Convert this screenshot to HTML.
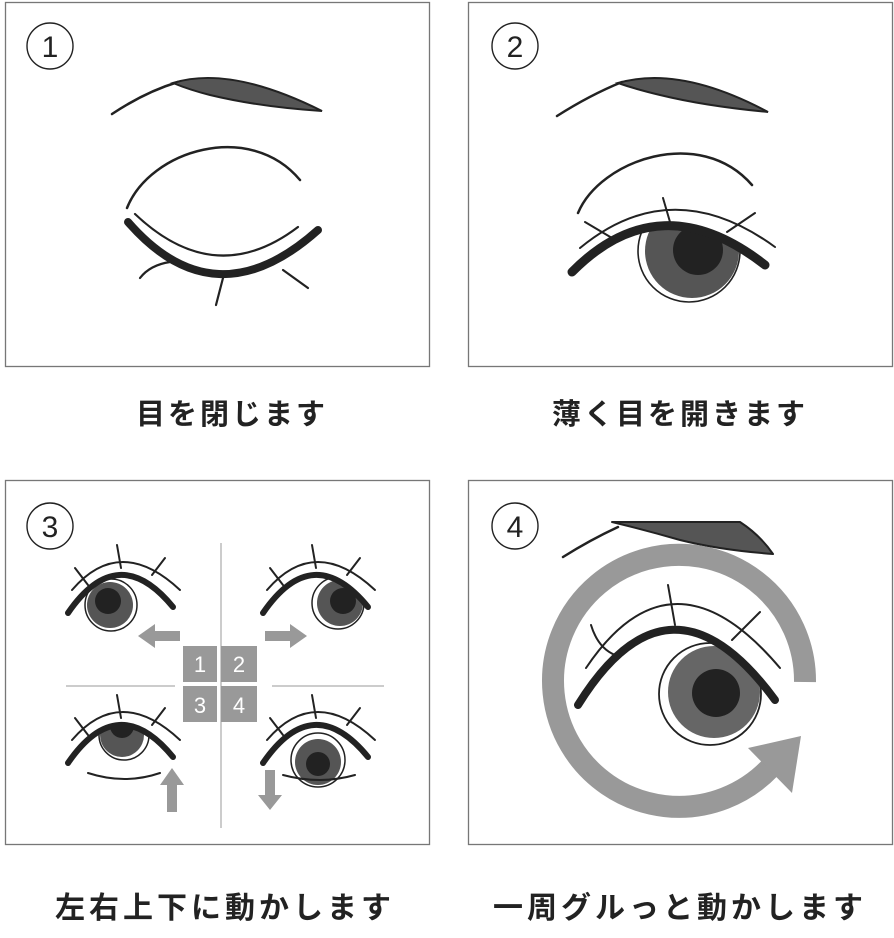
<!DOCTYPE html>
<html><head><meta charset="utf-8"><style>
html,body{margin:0;padding:0;background:#fff;}
svg{display:block}
text{font-family:"Liberation Sans","Noto Sans CJK JP",sans-serif;}
</style></head><body>
<svg width="894" height="938" viewBox="0 0 894 938" xmlns="http://www.w3.org/2000/svg">
<defs>
<clipPath id="c2"><path d="M572,272 Q660,183 765,265 L765,400 L572,400Z"/></clipPath>
<clipPath id="c4"><path d="M578,705 Q670,557 775,700 L775,800 L578,800Z"/></clipPath>
<clipPath id="cTL"><path d="M68,613 Q118,540 173,607 L173,700 L68,700Z"/></clipPath>
<clipPath id="cTR"><path d="M263,613 Q313,540 368,607 L368,700 L263,700Z"/></clipPath>
<clipPath id="cBL"><path d="M68,763 Q118,690 173,757 L173,850 L68,850Z"/></clipPath>
<clipPath id="cBR"><path d="M263,763 Q313,690 368,757 L368,850 L263,850Z"/></clipPath>
</defs>
<g fill="none" stroke="#777" stroke-width="1.3">
<rect x="5.5" y="2.5" width="424" height="364"/>
<rect x="468.5" y="2.5" width="424" height="364"/>
<rect x="5.5" y="480.5" width="424" height="364"/>
<rect x="468.5" y="480.5" width="424" height="364"/>
</g>
<g fill="none" stroke="#222" stroke-width="1.4">
<circle cx="50" cy="46" r="23"/><circle cx="515" cy="46" r="23"/>
<circle cx="50" cy="526" r="23"/><circle cx="515" cy="526" r="23"/>
</g>
<g font-size="30" fill="#222" text-anchor="middle">
<text x="50" y="57">1</text><text x="515" y="57">2</text>
<text x="50" y="537">3</text><text x="515" y="537">4</text>
</g>

<!-- Panel 1 -->
<g stroke="#222" fill="none" stroke-linecap="round">
<path d="M112,114 Q145,92 178,82" stroke-width="2.5"/>
<path d="M173,83 Q230,65 322,111 Q260,107 210,95 Q190,90 173,83Z" fill="#555" stroke-width="2"/>
<path d="M127,208 C150,150 250,120 300,180" stroke-width="2.5"/>
<path d="M135,214 Q215,290 298,227" stroke-width="2.2"/>
<path d="M128,222 Q215,322 318,230" stroke-width="8"/>
<path d="M140,278 Q150,265 170,262" stroke-width="2.2"/>
<path d="M216,305 L223,278" stroke-width="2.2"/>
<path d="M283,270 L308,288" stroke-width="2.2"/>
</g>

<!-- Panel 2 -->
<g stroke="#222" fill="none" stroke-linecap="round">
<path d="M557,116 Q590,95 622,82" stroke-width="2.5"/>
<path d="M618,83 Q680,65 768,112 Q705,106 660,95 Q635,89 618,83Z" fill="#555" stroke-width="2"/>
<path d="M578,213 C600,160 700,125 752,185" stroke-width="2.5"/>
<g clip-path="url(#c2)">
<circle cx="689" cy="251" r="51" fill="#fff" stroke-width="1.6"/>
<circle cx="692" cy="251" r="47" fill="#555" stroke="none"/>
<circle cx="698" cy="250" r="25" fill="#222" stroke="none"/>
</g>
<path d="M580,248 Q672,172 775,247" stroke-width="2"/>
<path d="M585,222 L612,238 M663,198 L670,222 M755,213 L727,232" stroke-width="2"/>
<path d="M572,272 Q660,183 765,265" stroke-width="9"/>
</g>

<!-- Panel 3 -->
<g stroke="#bbb" stroke-width="1.5">
<line x1="221" y1="543" x2="221" y2="828"/>
<line x1="66" y1="686" x2="175" y2="686"/>
<line x1="272" y1="686" x2="384" y2="686"/>
</g>
<g fill="#999">
<rect x="183" y="646" width="34" height="36"/><rect x="221" y="646" width="36" height="36"/>
<rect x="183" y="686" width="34" height="36"/><rect x="221" y="686" width="36" height="36"/>
<path d="M180,631 L155,631 L155,624 L138,636 L155,648 L155,641 L180,641Z"/>
<path d="M265,631 L290,631 L290,624 L307,636 L290,648 L290,641 L265,641Z"/>
<path d="M167,812 L167,785 L160,785 L172,768 L184,785 L177,785 L177,812Z"/>
<path d="M265,770 L265,795 L258,795 L270,810 L282,795 L275,795 L275,770Z"/>
</g>
<g fill="#fff" font-size="22" text-anchor="middle">
<text x="200" y="672">1</text><text x="239" y="672">2</text>
<text x="200" y="713">3</text><text x="239" y="713">4</text>
</g>
<g stroke="#222" fill="none" stroke-linecap="round">
<!-- TL -->
<g clip-path="url(#cTL)">
<circle cx="111" cy="605" r="26" fill="#fff" stroke-width="1.5"/>
<circle cx="110" cy="605" r="23" fill="#555" stroke="none"/>
<circle cx="108" cy="601" r="13" fill="#222" stroke="none"/>
</g>
<path d="M68,613 Q118,540 173,607" stroke-width="6"/>
<path d="M72,590 Q120,534 180,590" stroke-width="2"/>
<path d="M75,568 L88,585 M117,545 L121,568 M165,558 L152,575" stroke-width="2"/>
<!-- TR -->
<g clip-path="url(#cTR)">
<circle cx="338" cy="603" r="26" fill="#fff" stroke-width="1.5"/>
<circle cx="340" cy="603" r="23" fill="#555" stroke="none"/>
<circle cx="343" cy="601" r="13" fill="#222" stroke="none"/>
</g>
<path d="M263,613 Q313,540 368,607" stroke-width="6"/>
<path d="M267,590 Q315,534 375,590" stroke-width="2"/>
<path d="M270,568 L283,585 M312,545 L316,568 M360,558 L347,575" stroke-width="2"/>
<!-- BL -->
<g clip-path="url(#cBL)">
<circle cx="124" cy="735" r="25" fill="#fff" stroke-width="1.5"/>
<circle cx="122" cy="735" r="22" fill="#555" stroke="none"/>
<circle cx="122" cy="726" r="12" fill="#222" stroke="none"/>
</g>
<path d="M68,763 Q118,690 173,757" stroke-width="6"/>
<path d="M72,740 Q120,684 180,740" stroke-width="2"/>
<path d="M75,718 L88,735 M117,695 L121,718 M165,708 L152,725" stroke-width="2"/>
<path d="M88,773 Q125,785 160,773" stroke-width="2"/>
<!-- BR -->
<g clip-path="url(#cBR)">
<circle cx="318" cy="760" r="27" fill="#fff" stroke-width="1.5"/>
<circle cx="318" cy="762" r="23" fill="#555" stroke="none"/>
<circle cx="318" cy="764" r="12" fill="#222" stroke="none"/>
</g>
<path d="M263,763 Q313,690 368,757" stroke-width="6"/>
<path d="M267,740 Q315,684 375,740" stroke-width="2"/>
<path d="M270,718 L283,735 M312,695 L316,718 M360,708 L347,725" stroke-width="2"/>
<path d="M283,775 Q320,785 355,775" stroke-width="2"/>
</g>

<!-- Panel 4 -->
<g stroke="#222" fill="none" stroke-linecap="round">
<path d="M563,557 Q590,540 618,527" stroke-width="2.5"/>
<path d="M612,522 L740,522 Q760,535 773,554 Q720,550 680,540 Q645,530 612,522Z" fill="#555" stroke-width="2" stroke-linejoin="round"/>
</g>
<path d="M805,682 A126,126 0 1 0 770,768" fill="none" stroke="#999" stroke-width="22"/>
<path d="M748,748 L801,736 L792,793Z" fill="#999"/>
<g stroke="#222" fill="none" stroke-linecap="round">
<g clip-path="url(#c4)">
<circle cx="710" cy="694" r="51" fill="#fff" stroke-width="1.8"/>
<circle cx="714" cy="692" r="46" fill="#666" stroke="none"/>
<circle cx="716" cy="693" r="24" fill="#222" stroke="none"/>
</g>
<path d="M586,668 Q672,540 780,668" stroke-width="2"/>
<path d="M591,625 Q598,648 615,655 M668,585 L675,625 M760,612 L732,640" stroke-width="2"/>
<path d="M578,705 Q670,557 775,700" stroke-width="8"/>
</g>

<g font-size="29" fill="#222" font-weight="bold" text-anchor="middle" letter-spacing="3">
<text x="232" y="424">目を閉じます</text>
<text x="680" y="424">薄く目を開きます</text>
</g>
<g font-size="30" fill="#222" font-weight="bold" text-anchor="middle" letter-spacing="4">
<text x="225" y="918">左右上下に動かします</text>
<text x="680" y="918">一周グルっと動かします</text>
</g>
</svg>
</body></html>
